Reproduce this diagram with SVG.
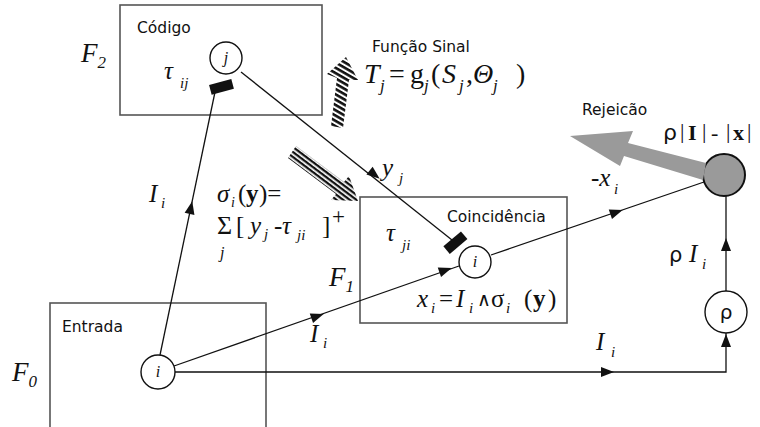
<svg xmlns="http://www.w3.org/2000/svg" xmlns:xlink="http://www.w3.org/1999/xlink" width="760" height="427" viewBox="0 0 760 427">
<style>
.box{fill:none;stroke:#555;stroke-width:1.6}
.ln{fill:none;stroke:#111;stroke-width:1.3}
.nd{fill:#fff;stroke:#111;stroke-width:1.4}
.lab{font-family:"DejaVu Sans",sans-serif;font-size:15.5px;fill:#111}
.m{font-family:"Liberation Serif",serif;fill:#111}
.mi{font-family:"Liberation Serif",serif;font-style:italic;fill:#111}
.up{font-style:normal}
.it{font-style:italic}
.ah{fill:#111}
</style>
<defs>
<path id="ah" d="M6,0 L-7,-5 L-7,5 Z"/>
<pattern id="h1" width="8" height="4.6" patternUnits="userSpaceOnUse" patternTransform="rotate(30)">
<rect width="8" height="2.6" fill="#111"/>
</pattern>
<pattern id="h2" width="8" height="4" patternUnits="userSpaceOnUse" patternTransform="rotate(37)">
<rect width="8" height="2.3" fill="#111"/>
</pattern>
</defs>

<g id="F2">
<rect class="box" x="120" y="5" width="202" height="110"/>
<text class="lab" x="137" y="33">Código</text>
<text class="mi" x="81" y="62" font-size="27">F<tspan font-size="17" dy="6">2</tspan></text>
<text class="mi" x="164" y="79" font-size="25">τ</text><text class="mi" x="180" y="88" font-size="15">ij</text>
<rect x="210" y="82" width="23" height="10" fill="#111" transform="rotate(-15 221 87)"/>
</g>
<g id="node-j">
<circle class="nd" cx="226" cy="58" r="16"/>
<text class="mi" x="226" y="63" text-anchor="middle" font-size="16">j</text>
</g>

<g id="F1">
<rect class="box" x="360" y="197" width="207" height="126"/>
<text class="lab" x="447" y="222">Coincidência</text>
<text class="mi" x="329" y="286" font-size="27">F<tspan font-size="17" dy="6">1</tspan></text>
<text class="mi" x="386" y="241" font-size="25">τ</text><text class="mi" x="402" y="250" font-size="15">ji</text>
<rect x="444" y="238" width="23" height="10" fill="#111" transform="rotate(-40 455 243)"/>
<text class="mi" font-size="25"><tspan x="417" y="307">x</tspan><tspan x="431" y="313" font-size="15">i</tspan><tspan class="up" x="439" y="307">=</tspan><tspan x="456" y="307">I</tspan><tspan x="469" y="313" font-size="15">i</tspan><tspan class="up" x="477" y="306" font-family="DejaVu Serif,serif" font-size="19">∧</tspan><tspan class="up" x="491" y="307">σ</tspan><tspan x="506" y="313" font-size="15">i</tspan><tspan class="up" x="524" y="307">(</tspan><tspan class="up" x="533" y="307" font-weight="bold">y</tspan><tspan class="up" x="548" y="307">)</tspan></text>
</g>
<g id="node-i1">
<circle class="nd" cx="475" cy="262" r="16"/>
<text class="mi" x="475" y="267" text-anchor="middle" font-size="16">i</text>
</g>

<g id="F0">
<rect class="box" x="50" y="303" width="216" height="130"/>
<text class="lab" x="62" y="332">Entrada</text>
<text class="mi" x="12" y="381" font-size="27">F<tspan font-size="17" dy="6">0</tspan></text>
</g>
<g id="node-i0">
<circle class="nd" cx="158" cy="372" r="17"/>
<text class="mi" x="158" y="377" text-anchor="middle" font-size="16">i</text>
</g>

<g id="node-rho">
<circle class="nd" cx="726" cy="312" r="21"/>
<text x="726" y="319" text-anchor="middle" font-family="DejaVu Sans,sans-serif" font-size="20" fill="#111">ρ</text>
</g>
<g id="node-reset">
<circle cx="724" cy="175" r="21" fill="#9a9a9a" stroke="#111" stroke-width="2"/>
</g>

<g id="connectors">
<path class="ln" d="M160,355 L215,92"/>
<path class="ln" d="M241,72 L452,240"/>
<path class="ln" d="M174,366 L459,266"/>
<path class="ln" d="M491,255 L704,182"/>
<path class="ln" d="M175,372 H726 V333"/>
<path class="ln" d="M726,291 V196"/>
<use href="#ah" class="ah" transform="translate(191,207) rotate(-78)"/>
<use href="#ah" class="ah" transform="translate(375,175) rotate(38.6)"/>
<use href="#ah" class="ah" transform="translate(318,316) rotate(-19.4)"/>
<use href="#ah" class="ah" transform="translate(446,270) rotate(-19.4)"/>
<use href="#ah" class="ah" transform="translate(617,212) rotate(-18.9)"/>
<use href="#ah" class="ah" transform="translate(608,372)"/>
<use href="#ah" class="ah" transform="translate(726,340) rotate(-90)"/>
<use href="#ah" class="ah" transform="translate(726,244) rotate(-90)"/>
<polygon points="346,57 358,80 349,80 343,128 331,126 337,78 327,74" fill="url(#h1)"/>
<polygon points="296,146 288,158 336,194 331,200 358,201 349,176 344,182" fill="url(#h2)"/>
<polygon points="570,136 633,131 628,143 706,163 703,180 624,156 620,166" fill="#9a9a9a"/>
</g>

<g id="labels">
<text class="lab" x="372" y="52">Função Sinal</text>
<text class="lab" x="582" y="115">Rejeicão</text>
<text class="mi" font-size="28"><tspan x="364" y="83">T</tspan><tspan x="380" y="91" font-size="17">j</tspan><tspan class="up" x="389" y="83">=</tspan><tspan class="up" x="410" y="83">g</tspan><tspan x="424" y="91" font-size="17">j</tspan><tspan class="up" x="431" y="83">(</tspan><tspan x="442" y="83">S</tspan><tspan x="459" y="91" font-size="17">j</tspan><tspan class="up" x="466" y="83">,</tspan><tspan x="473" y="83">Θ</tspan><tspan x="493" y="91" font-size="17">j</tspan><tspan class="up" x="516" y="83">)</tspan></text>
<text class="mi" x="149" y="202" font-size="25">I</text><text class="mi" x="161" y="208" font-size="15">i</text>
<text class="mi" font-size="25"><tspan x="217" y="202">σ</tspan><tspan x="231" y="207" font-size="14">i</tspan><tspan class="up" x="238" y="202">(</tspan><tspan class="up" x="246" y="202" font-weight="bold">y</tspan><tspan class="up" x="259" y="202">)=</tspan></text>
<text class="m" font-size="25"><tspan x="217" y="234" font-size="26">Σ</tspan><tspan x="236" y="234">[</tspan><tspan class="it" x="250" y="234">y</tspan><tspan class="it" x="264" y="239" font-size="15">j</tspan><tspan x="274" y="234">-</tspan><tspan class="it" x="282" y="234">τ</tspan><tspan class="it" x="297" y="240" font-size="15">ji</tspan><tspan x="322" y="234">]</tspan><tspan x="332" y="224" font-size="23">+</tspan></text>
<text class="mi" x="220" y="258" font-size="16">j</text>
<text class="mi" x="382" y="176" font-size="25">y</text><text class="mi" x="399" y="183" font-size="15">j</text>
<text class="mi" x="310" y="342" font-size="25">I</text><text class="mi" x="323" y="348" font-size="15">i</text>
<text class="m" x="591" y="186" font-size="25">-<tspan class="it">x</tspan></text><text class="mi" x="614" y="194" font-size="15">i</text>
<text x="669" y="262" font-family="DejaVu Sans,sans-serif" font-size="21" fill="#111">ρ</text><text class="mi" x="689" y="262" font-size="25">I</text><text class="mi" x="702" y="269" font-size="15">i</text>
<text class="mi" x="596" y="350" font-size="25">I</text><text class="mi" x="611" y="357" font-size="15">i</text>
<text class="m" font-size="22"><tspan x="663" y="140" font-family="DejaVu Sans,sans-serif">ρ</tspan><tspan x="680" y="138">|</tspan><tspan x="688" y="140" font-weight="bold">I</tspan><tspan x="702" y="138">|</tspan><tspan x="711" y="140">-</tspan><tspan x="726" y="138">|</tspan><tspan x="733" y="140" font-weight="bold">x</tspan><tspan x="747" y="138">|</tspan></text>
</g>
</svg>
